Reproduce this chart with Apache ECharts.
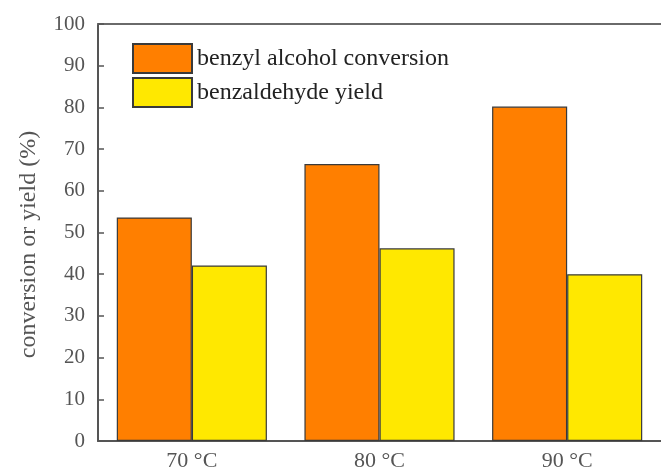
<!DOCTYPE html>
<html>
<head>
<meta charset="utf-8">
<script src="https://cdn.jsdelivr.net/npm/echarts@6/dist/echarts.min.js"></script>
<style>
  html, body { margin: 0; padding: 0; background: #fff; }
  #chart { width: 661px; height: 472px; }
</style>
</head>
<body>
<div id="chart"></div>
<script>
// Reaction temperatures and measured results (%)
var categories = ['70 \u00B0C', '80 \u00B0C', '90 \u00B0C'];
var conversion = [53.6, 66.4, 80.2];
var yieldValues = [42.1, 46.2, 40.0];
var seriesNames = ['benzyl alcohol conversion', 'benzaldehyde yield'];

var serif = '"Liberation Serif", "Times New Roman", serif';
var chart = echarts.init(document.getElementById('chart'));

chart.setOption({
  animation: false,
  backgroundColor: '#ffffff',
  grid: { left: 98, top: 24, right: -1, bottom: 31 },
  legend: {
    orient: 'vertical',
    left: 127, top: 38,
    icon: 'rect',
    itemWidth: 59, itemHeight: 29, itemGap: 3,
    textStyle: { fontFamily: serif, fontSize: 24, color: '#222' },
    data: seriesNames
  },
  xAxis: [
    {
      type: 'category',
      data: categories,
      axisLine: { lineStyle: { color: '#555', width: 2 } },
      axisTick: { show: false },
      axisLabel: { fontFamily: serif, fontSize: 22, color: '#555', margin: 9 }
    },
    {
      // frame line along the top of the plot
      type: 'category',
      position: 'top',
      data: categories,
      axisLine: { lineStyle: { color: '#6a6a6a', width: 2 } },
      axisTick: { show: false },
      axisLabel: { show: false }
    }
  ],
  yAxis: {
    type: 'value',
    min: 0, max: 100, interval: 10,
    name: 'conversion or yield (%)',
    nameLocation: 'middle',
    nameGap: 57,
    nameTextStyle: { fontFamily: serif, fontSize: 24, color: '#555', padding: [0, 24, 0, 0] },
    splitLine: { show: false },
    axisLine: { show: true, lineStyle: { color: '#555', width: 2 } },
    axisTick: { show: true, inside: true, length: 6, lineStyle: { color: '#555', width: 1.5 } },
    axisLabel: { fontFamily: serif, fontSize: 21, color: '#555', margin: 13 }
  },
  series: [
    {
      name: seriesNames[0],
      type: 'bar',
      data: conversion,
      barGap: '0%',
      barCategoryGap: '20%',
      itemStyle: { color: '#ff7f00', borderColor: '#3a3a3a', borderWidth: 1.2 }
    },
    {
      name: seriesNames[1],
      type: 'bar',
      data: yieldValues,
      itemStyle: { color: '#ffe800', borderColor: '#3a3a3a', borderWidth: 1.2 }
    }
  ]
});
</script>
</body>
</html>
